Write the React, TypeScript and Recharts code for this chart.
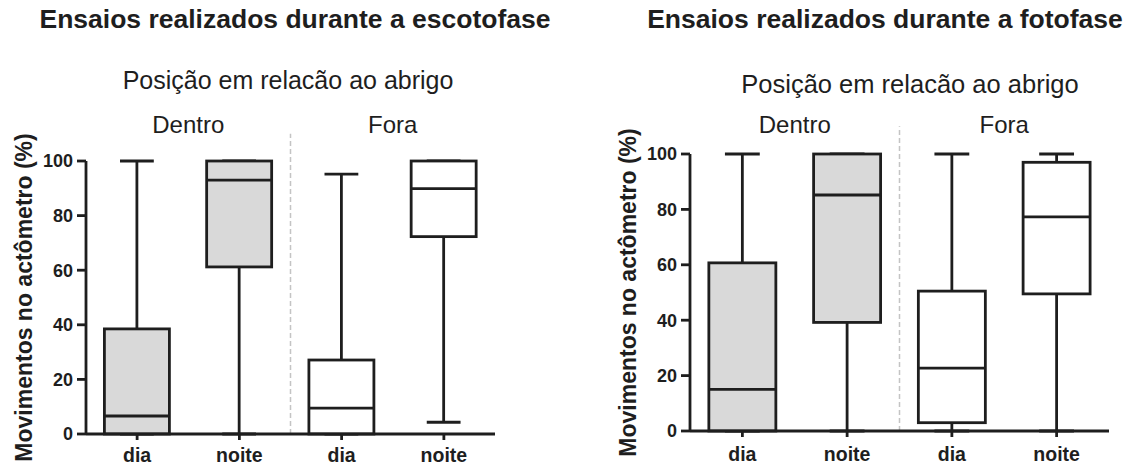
import React from "react";
import {
  ComposedChart,
  Bar,
  XAxis,
  YAxis,
  ReferenceLine,
  Label,
} from "recharts";

// ---- data ----
const categories = ["dia", "noite", "dia", "noite"];
const groups = ["Dentro", "Fora"];
const groupOfCategory = ["Dentro", "Dentro", "Fora", "Fora"];
const yTicks = [0, 20, 40, 60, 80, 100];

// Ensaios realizados durante a escotofase
const escMin = [0, 0, 0, 4.3];
const escQ1 = [0, 61.2, 0, 72.3];
const escMedian = [6.6, 93.0, 9.5, 89.9];
const escQ3 = [38.5, 100, 27.1, 100];
const escMax = [100, 100, 95.2, 100];

// Ensaios realizados durante a fotofase
const fotoMin = [0, 0, 0, 0];
const fotoQ1 = [0, 39.2, 3.0, 49.5];
const fotoMedian = [15.0, 85.2, 22.7, 77.3];
const fotoQ3 = [60.7, 100, 50.5, 97.0];
const fotoMax = [100, 100, 100, 100];

const titleLeft = "Ensaios realizados durante a escotofase";
const titleRight = "Ensaios realizados durante a fotofase";
const subtitle = "Posição em relacão ao abrigo";
const yLabel = "Movimentos no actômetro (%)";

// ---- styles ----
const FONT = "'Liberation Sans', Arial, Helvetica, sans-serif";
const INK = "#1e1e1e";
const GRAY_FILL = "#d9d9d9";
const WHITE_FILL = "#ffffff";
const LINE_W = 2.8;

type Row = {
  key: string;
  slot: number;
  min: number;
  q1: number;
  median: number;
  q3: number;
  max: number;
  fill: string;
};

function buildRows(
  mins: number[],
  q1s: number[],
  medians: number[],
  q3s: number[],
  maxs: number[]
): Row[] {
  return categories.map((c, i) => ({
    key: `${groupOfCategory[i]}-${c}-${i}`,
    slot: i + 0.5,
    min: mins[i],
    q1: q1s[i],
    median: medians[i],
    q3: q3s[i],
    max: maxs[i],
    fill: groupOfCategory[i] === "Dentro" ? GRAY_FILL : WHITE_FILL,
  }));
}

const escRows = buildRows(escMin, escQ1, escMedian, escQ3, escMax);
const fotoRows = buildRows(fotoMin, fotoQ1, fotoMedian, fotoQ3, fotoMax);

const BoxShape = (props: any) => {
  const { x, y, width, height, payload } = props;
  if (x == null || y == null) return null;
  const { min, q1, median, q3, max, fill } = payload as Row;
  const top = Math.min(y, y + height);
  const h = Math.abs(height);
  const toY = (v: number) =>
    max === min ? top : top + ((max - v) / (max - min)) * h;
  const cx = x + width / 2;
  const capHalf = width * 0.26;
  const yMax = toY(max);
  const yMin = toY(min);
  const yQ1 = toY(q1);
  const yQ3 = toY(q3);
  const yMed = toY(median);
  return (
    <g>
      <line x1={cx} x2={cx} y1={yMax} y2={yQ3} stroke={INK} strokeWidth={LINE_W} />
      <line x1={cx} x2={cx} y1={yQ1} y2={yMin} stroke={INK} strokeWidth={LINE_W} />
      <line x1={cx - capHalf} x2={cx + capHalf} y1={yMax} y2={yMax} stroke={INK} strokeWidth={LINE_W} />
      <line x1={cx - capHalf} x2={cx + capHalf} y1={yMin} y2={yMin} stroke={INK} strokeWidth={LINE_W} />
      <rect
        x={x}
        y={yQ3}
        width={width}
        height={Math.max(0, yQ1 - yQ3)}
        fill={fill}
        stroke={INK}
        strokeWidth={LINE_W}
      />
      <line x1={x} x2={x + width} y1={yMed} y2={yMed} stroke={INK} strokeWidth={LINE_W} />
    </g>
  );
};

type PanelProps = {
  rows: Row[];
  left: number;
  yAxisWidth: number;
  marginTop: number;
  marginRight: number;
  xAxisHeight: number;
  xTickMargin: number;
  groupTickMargin: number;
};

const Panel = ({
  rows,
  left,
  yAxisWidth,
  marginTop,
  marginRight,
  xAxisHeight,
  xTickMargin,
  groupTickMargin,
}: PanelProps) => {
  const renderYLabel = (p: any) => {
    const vb = p.viewBox || {};
    const lx = vb.x + vb.width - 62;
    const ly = vb.y + vb.height / 2;
    return (
      <text
        x={lx}
        y={ly}
        transform={`rotate(-90, ${lx}, ${ly})`}
        textAnchor="middle"
        dominantBaseline="central"
        fontFamily={FONT}
        fontWeight="bold"
        fontSize={23}
        fill={INK}
      >
        {yLabel}
      </text>
    );
  };
  return (
    <div style={{ position: "absolute", left, top: 0 }}>
      <ComposedChart
        width={566}
        height={465}
        data={rows}
        margin={{ top: marginTop, right: marginRight, bottom: 0, left: 0 }}
        barCategoryGap="18%"
      >
        <XAxis
          xAxisId="cat"
          dataKey="key"
          type="category"
          height={xAxisHeight}
          tickFormatter={(_v: any, i: number) => categories[i]}
          axisLine={{ stroke: INK, strokeWidth: LINE_W }}
          tickLine={{ stroke: INK, strokeWidth: LINE_W }}
          tickSize={6}
          tickMargin={xTickMargin}
          interval={0}
          tick={{ fontFamily: FONT, fontWeight: "bold", fontSize: 19.5, fill: INK }}
        />
        <XAxis
          xAxisId="num"
          dataKey="slot"
          type="number"
          orientation="top"
          domain={[0, 4]}
          allowDataOverflow={true}
          ticks={[1, 3]}
          height={40}
          axisLine={false}
          tickLine={false}
          tickSize={0}
          tickMargin={groupTickMargin}
          interval={0}
          tickFormatter={(v: number) => (v < 2 ? groups[0] : groups[1])}
          tick={{ fontFamily: FONT, fontSize: 24, fill: INK }}
        />
        <YAxis
          type="number"
          domain={[0, 100]}
          ticks={yTicks}
          width={yAxisWidth}
          axisLine={{ stroke: INK, strokeWidth: LINE_W }}
          tickLine={{ stroke: INK, strokeWidth: LINE_W }}
          tickSize={9}
          tickMargin={4}
          interval={0}
          tick={{ fontFamily: FONT, fontWeight: "bold", fontSize: 18, fill: INK }}
        >
          <Label content={renderYLabel} />
        </YAxis>
        <ReferenceLine
          xAxisId="num"
          segment={[
            { x: 2, y: 0 },
            { x: 2, y: 110 },
          ]}
          ifOverflow="visible"
          stroke="#c4c4c4"
          strokeWidth={1.5}
          strokeDasharray="5 3"
        />
        <Bar
          xAxisId="cat"
          dataKey={(d: Row) => [d.min, d.max]}
          shape={BoxShape}
          isAnimationActive={false}
        />
      </ComposedChart>
    </div>
  );
};

export default function App() {
  return (
    <div
      style={{
        position: "absolute",
        left: 0,
        top: 0,
        width: 1132,
        height: 465,
        background: "#ffffff",
        overflow: "hidden",
      }}
    >
      <Panel
        rows={escRows}
        left={0}
        yAxisWidth={86}
        marginTop={121}
        marginRight={71}
        xAxisHeight={31}
        xTickMargin={8}
        groupTickMargin={28}
      />
      <Panel
        rows={fotoRows}
        left={566}
        yAxisWidth={124}
        marginTop={114}
        marginRight={23}
        xAxisHeight={34}
        xTickMargin={10}
        groupTickMargin={21}
      />
      <svg
        width={1132}
        height={465}
        style={{ position: "absolute", left: 0, top: 0, pointerEvents: "none" }}
      >
        <text x={295} y={28} textAnchor="middle" fontFamily={FONT} fontWeight="bold" fontSize={26.5} fill={INK}>
          {titleLeft}
        </text>
        <text x={885} y={28} textAnchor="middle" fontFamily={FONT} fontWeight="bold" fontSize={26.5} fill={INK}>
          {titleRight}
        </text>
        <text x={288} y={89} textAnchor="middle" fontFamily={FONT} fontSize={25} fill={INK}>
          {subtitle}
        </text>
        <text x={910} y={93} textAnchor="middle" fontFamily={FONT} fontSize={25.5} fill={INK}>
          {subtitle}
        </text>
      </svg>
    </div>
  );
}
